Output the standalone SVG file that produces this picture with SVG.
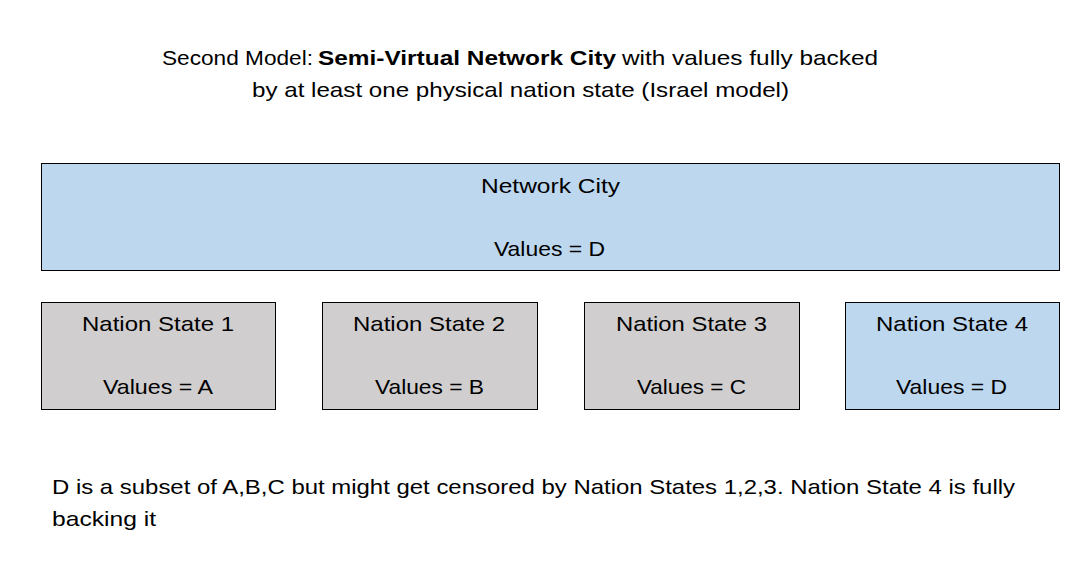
<svg xmlns="http://www.w3.org/2000/svg" width="1087" height="568" viewBox="0 0 1087 568">
<style>
text{font-family:"Liberation Sans",Arial,sans-serif;font-size:21px;fill:#000}
.blue{fill:#BDD7EE;stroke:#000;stroke-width:1}
.gray{fill:#D0CECE;stroke:#000;stroke-width:1}
.b{font-weight:bold}
</style>
<rect width="1087" height="568" fill="#fff"/>
<g id="title">
<text y="65"><tspan x="162" textLength="151" lengthAdjust="spacingAndGlyphs">Second Model:</tspan><tspan class="b" x="318" textLength="298" lengthAdjust="spacingAndGlyphs">Semi-Virtual Network City</tspan><tspan x="622" textLength="256" lengthAdjust="spacingAndGlyphs">with values fully backed</tspan></text>
<text x="252" y="97" textLength="537" lengthAdjust="spacingAndGlyphs">by at least one physical nation state (Israel model)</text>
</g>
<g id="network-city">
<rect class="blue" x="41.5" y="163.5" width="1018" height="107"/>
<text x="481" y="193" textLength="139" lengthAdjust="spacingAndGlyphs">Network City</text>
<text x="494" y="256" textLength="111" lengthAdjust="spacingAndGlyphs">Values = D</text>
</g>
<g id="nation-state-1">
<rect class="gray" x="41.5" y="302.5" width="234" height="107"/>
<text x="82" y="331" textLength="152" lengthAdjust="spacingAndGlyphs">Nation State 1</text>
<text x="103" y="394" textLength="110" lengthAdjust="spacingAndGlyphs">Values = A</text>
</g>
<g id="nation-state-2">
<rect class="gray" x="322.5" y="302.5" width="215" height="107"/>
<text x="353" y="331" textLength="152" lengthAdjust="spacingAndGlyphs">Nation State 2</text>
<text x="375" y="394" textLength="109" lengthAdjust="spacingAndGlyphs">Values = B</text>
</g>
<g id="nation-state-3">
<rect class="gray" x="584.5" y="302.5" width="215" height="107"/>
<text x="616" y="331" textLength="151" lengthAdjust="spacingAndGlyphs">Nation State 3</text>
<text x="637" y="394" textLength="109" lengthAdjust="spacingAndGlyphs">Values = C</text>
</g>
<g id="nation-state-4">
<rect class="blue" x="845.5" y="302.5" width="214" height="107"/>
<text x="876" y="331" textLength="152" lengthAdjust="spacingAndGlyphs">Nation State 4</text>
<text x="896" y="394" textLength="111" lengthAdjust="spacingAndGlyphs">Values = D</text>
</g>
<g id="connectors"></g>
<g id="note">
<text x="52" y="494" textLength="963" lengthAdjust="spacingAndGlyphs">D is a subset of A,B,C but might get censored by Nation States 1,2,3. Nation State 4 is fully</text>
<text x="52" y="526" textLength="104" lengthAdjust="spacingAndGlyphs">backing it</text>
</g>
</svg>
